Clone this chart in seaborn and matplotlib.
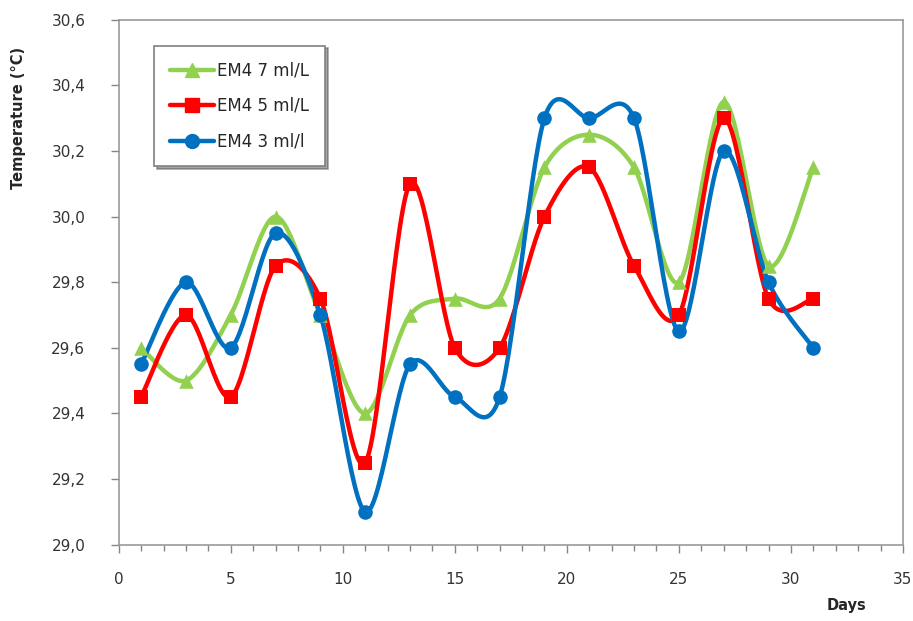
import matplotlib
matplotlib.use("Agg")
import matplotlib.pyplot as plt
import numpy as np
import pandas as pd
import seaborn as sns
from matplotlib.ticker import MultipleLocator, FuncFormatter

sns.set_theme(style="white")
plt.rcParams["font.family"] = ["DejaVu Sans"]

days = [1, 3, 5, 7, 9, 11, 13, 15, 17, 19, 21, 23, 25, 27, 29, 31]
em4_7 = [29.6, 29.5, 29.7, 30.0, 29.7, 29.4, 29.7, 29.75, 29.75, 30.15,
         30.25, 30.15, 29.8, 30.35, 29.85, 30.15]
em4_5 = [29.45, 29.7, 29.45, 29.85, 29.75, 29.25, 30.1, 29.6, 29.6, 30.0,
         30.15, 29.85, 29.7, 30.3, 29.75, 29.75]
em4_3 = [29.55, 29.8, 29.6, 29.95, 29.7, 29.1, 29.55, 29.45, 29.45, 30.3,
         30.3, 30.3, 29.65, 30.2, 29.8, 29.6]

series = [
    ("EM4 7 ml/L", em4_7, "#92D050", "^"),
    ("EM4 5 ml/L", em4_5, "#FF0000", "s"),
    ("EM4 3 ml/l", em4_3, "#0070C0", "o"),
]


def smooth(x, y, n=30, k=6.5):
    # Excel-style smoothed line (Bezier through points, Catmull-Rom tangents)
    p = np.column_stack([x, y]).astype(float)
    ext = np.vstack([p[0], p, p[-1]])
    out = []
    t = np.linspace(0, 1, n)[:, None]
    for i in range(len(p) - 1):
        p0, p1, p2, p3 = ext[i], ext[i + 1], ext[i + 2], ext[i + 3]
        c1 = p1 + (p2 - p0) / k
        c2 = p2 - (p3 - p1) / k
        seg = ((1 - t) ** 3 * p1 + 3 * (1 - t) ** 2 * t * c1
               + 3 * (1 - t) * t ** 2 * c2 + t ** 3 * p2)
        out.append(seg if i == 0 else seg[1:])
    s = np.vstack(out)
    return s[:, 0], s[:, 1]


fig, ax = plt.subplots(figsize=(9.13, 6.21), dpi=100)
fig.subplots_adjust(left=0.130, right=0.989, top=0.968, bottom=0.123)

handles = []
for name, vals, color, marker in series:
    sx, sy = smooth(days, vals)
    ax.plot(sx, sy, color=color, lw=3.2, zorder=2)
    df = pd.DataFrame({"day": days, "temp": vals})
    sns.scatterplot(data=df, x="day", y="temp", ax=ax, color=color,
                    marker=marker, s=110, edgecolor=color, linewidth=0,
                    zorder=3)
    h, = ax.plot([], [], color=color, lw=3.2, marker=marker, ms=10,
                 label=name)
    handles.append(h)

ax.set_xlim(0, 35)
ax.set_ylim(29.0, 30.6)
ax.xaxis.set_major_locator(MultipleLocator(5))
ax.xaxis.set_minor_locator(MultipleLocator(1))
ax.yaxis.set_major_locator(MultipleLocator(0.2))
ax.yaxis.set_major_formatter(FuncFormatter(lambda v, _: f"{v:.1f}".replace(".", ",")))
ax.tick_params(axis="both", which="major", direction="out", length=6,
               width=1, color="#868686", labelsize=11, labelcolor="#333333",
               left=True, bottom=True)
ax.tick_params(axis="x", which="minor", direction="out", length=4,
               width=1, color="#868686", bottom=True)
ax.tick_params(axis="x", pad=14)
ax.tick_params(axis="y", pad=18)
for side in ["left", "bottom", "top", "right"]:
    ax.spines[side].set_color("#9a9a9a")
    ax.spines[side].set_linewidth(1.2)

ax.set_xlabel("")
ax.set_ylabel("")
fig.text(0.020, 0.81, "Temperature (°C)", fontsize=10.5, fontweight="bold",
         rotation=90, ha="center", va="center")
fig.text(0.927, 0.017, "Days", fontsize=10.5, fontweight="bold", ha="center")

leg = ax.legend(handles=handles, loc="upper left",
                bbox_to_anchor=(0.035, 0.967), fontsize=12, frameon=True,
                fancybox=False, shadow=True, handlelength=2.6,
                labelspacing=1.05, borderpad=0.95, handletextpad=0.2)
leg.get_frame().set_edgecolor("#808080")
leg.get_frame().set_linewidth(1.2)

fig.savefig("out.png", dpi=100)
